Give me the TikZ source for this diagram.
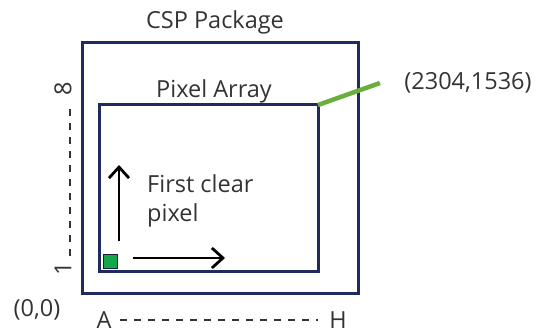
\documentclass[tikz,border=0pt]{standalone}
\usepackage{fontspec}
\setmainfont{Open Sans}
\usetikzlibrary{arrows.meta}
\definecolor{navy}{HTML}{1F2A5E}
\definecolor{lgreen}{HTML}{6AAE3E}
\definecolor{sqgreen}{HTML}{10A84A}
\definecolor{txt}{HTML}{333333}
\tikzset{
  box/.style={draw=navy, line width=3pt},
  lbl/.style={text=txt, font=\fontsize{23.5}{29}\selectfont, inner sep=0pt},
  mv/.style={draw=black, line width=2.8pt, -{Straight Barb[length=11pt,width=20pt,line width=2.8pt]}},
  dsh/.style={draw=txt, line width=1.5pt, dash pattern=on 7pt off 7pt},
}
\begin{document}
\begin{tikzpicture}[x=1pt,y=-1pt]
\useasboundingbox (0,0) rectangle (541,334);
\coordinate (cspNW) at (82,43);
\coordinate (cspSE) at (358,293);
\draw[box] (cspNW) rectangle (cspSE);
\coordinate (arrNW) at (99,105);
\coordinate (arrSE) at (318,271);
\draw[box] (arrNW) rectangle (arrSE);
\coordinate (corner) at (318,105);
\node[lbl] (csp) at (215,22) {CSP Package};
\node[lbl] (pix) at (214,91) {Pixel Array};
\node[lbl] (res) at (468,83) {(2304,1536)};
\coordinate (gend) at (380,83);
\draw[lgreen, line width=4.5pt] (corner) -- (gend);
\node[draw=navy!70!black, line width=0.8pt, fill=sqgreen, minimum size=14pt, inner sep=0pt] (sq) at (110,261) {};
\coordinate (hs) at (133,258);
\coordinate (he) at (225,258);
\draw[mv] (hs) -- (he);
\coordinate (vs) at (119,241);
\coordinate (ve) at (119,165);
\draw[mv] (vs) -- (ve);
\node[lbl, align=left, anchor=north west] (first) at (147,174) {First clear\\pixel};
\node[lbl] (orig) at (37,310) {(0,0)};
\node[lbl] (A) at (104,320) {A};
\node[lbl] (H) at (338,320) {H};
\coordinate (ha) at (120,320);
\coordinate (hb) at (318,320);
\draw[dsh] (ha) -- (hb);
\node[lbl, rotate=90] (one) at (63,269) {1};
\node[lbl, rotate=90] (eight) at (63,89) {8};
\coordinate (va) at (70,256);
\coordinate (vb) at (70,104);
\draw[dsh] (va) -- (vb);
\end{tikzpicture}
\end{document}
